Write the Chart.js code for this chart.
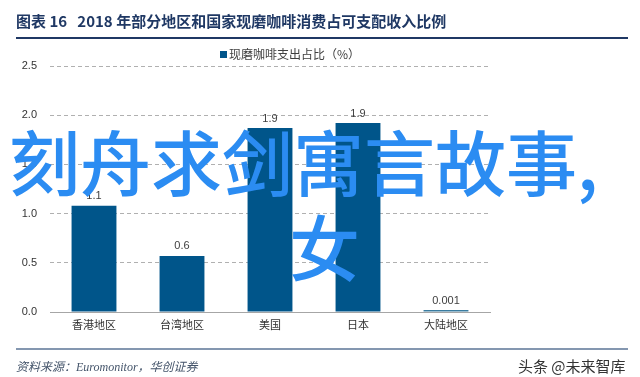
<!DOCTYPE html>
<html><head><meta charset="utf-8">
<script src="https://cdn.jsdelivr.net/npm/chart.js@4/dist/chart.umd.min.js"></script>
<style>
html,body{margin:0;padding:0;background:#fff;width:640px;height:377px;overflow:hidden;}
#wrap{position:relative;width:640px;height:377px;}
#c{position:absolute;left:0;top:0;}
.abs{position:absolute;white-space:nowrap;}
#title{left:16px;top:10px;font-family:"Noto Sans CJK SC",serif;font-weight:bold;font-size:15px;color:#1f3864;letter-spacing:0px;}
#tline{left:16px;top:37px;width:612px;height:2px;background:#1f3864;}
#fline{left:16px;top:348px;width:612px;height:2px;background:#8497b0;}
#src{left:16px;top:357px;font-family:"Liberation Serif","Noto Sans CJK SC",serif;font-style:italic;font-size:12px;color:#44546a;}
#wm{left:518px;top:355px;font-family:"Noto Sans CJK SC",sans-serif;font-size:15px;color:#333;}
#leg{left:220px;top:45px;font-family:"Noto Sans CJK SC",sans-serif;font-size:12px;color:#404040;}
#leg span.box{display:inline-block;width:7px;height:7px;background:#00558a;margin-right:2px;vertical-align:1px;}
#ov1{left:9px;top:114px;font-family:"Noto Sans CJK SC",sans-serif;font-weight:500;font-size:71px;line-height:90px;color:#2b8cf2;letter-spacing:0px;}
#ov2{left:289px;top:199px;font-family:"Noto Sans CJK SC",sans-serif;font-weight:500;font-size:71px;line-height:90px;color:#2b8cf2;}
</style></head>
<body><div id="wrap">
<canvas id="c" width="640" height="377"></canvas>
<div class="abs" id="title">图表 16&nbsp;&nbsp;&nbsp;2018 年部分地区和国家现磨咖啡消费占可支配收入比例</div>
<div class="abs" id="tline"></div>
<div class="abs" id="leg"><span class="box"></span>现磨咖啡支出占比（%）</div>
<div class="abs" id="fline"></div>
<div class="abs" id="src">资料来源：Euromonitor，华创证券</div>
<div class="abs" id="wm">头条 @未来智库</div>
<div class="abs" id="ov1">刻舟求剑寓言故事,</div>
<div class="abs" id="ov2">女</div>
</div>
<script>
const categories = ["香港地区","台湾地区","美国","日本","大陆地区"];
const seriesName = "现磨咖啡支出占比（%）";
const values = [1.08, 0.57, 1.87, 1.92, 0.001];
const yTicks = [0.0, 0.5, 1.0, 1.5, 2.0, 2.5];

const fmt = v => v < 0.01 ? v.toFixed(3) : v.toFixed(1);

const labelPlugin = {
  id: 'vlabels',
  afterDatasetsDraw(chart){
    const ctx = chart.ctx;
    const meta = chart.getDatasetMeta(0);
    ctx.save();
    ctx.font = '11px "Liberation Sans", Arial, sans-serif';
    ctx.fillStyle = '#404040';
    ctx.textAlign = 'center';
    ctx.textBaseline = 'bottom';
    meta.data.forEach((bar, i) => {
      ctx.fillText(fmt(values[i]), bar.x, bar.y - 4);
    });
    ctx.restore();
  }
};

new Chart(document.getElementById('c'), {
  type: 'bar',
  data: {
    labels: categories,
    datasets: [{
      label: seriesName,
      data: values,
      backgroundColor: values.map(v => v < 0.01 ? '#3a7ca0' : '#00558a'),
      barPercentage: 0.51,
      categoryPercentage: 1.0,
      minBarLength: 2
    }]
  },
  options: {
    responsive: false,
    animation: false,
    layout: { padding: { left: 0, right: 150, top: 66, bottom: 40 } },
    plugins: { legend: { display: false }, tooltip: { enabled: false } },
    scales: {
      x: {
        grid: { display: false, drawTicks: false },
        border: { display: true, color: '#a6a6a6', width: 1 },
        ticks: { color: '#333', font: { family: '"Noto Sans CJK SC", sans-serif', size: 11 }, padding: 6 },
        afterFit(s){ s.height = 25; }
      },
      y: {
        min: 0, max: 2.5,
        afterBuildTicks(s){ s.ticks = yTicks.map(v => ({ value: v })); },
        grid: {
          color: ctx => ctx.tick && ctx.tick.value === 0 ? 'rgba(0,0,0,0)' : '#b0b0b0',
          drawTicks: false, lineWidth: 1
        },
        border: { display: false, dash: [4, 3] },
        ticks: {
          color: '#333', font: { family: '"Liberation Sans", Arial, sans-serif', size: 11 },
          padding: 13, callback: v => Number(v).toFixed(1)
        },
        afterFit(s){ s.width = 50; }
      }
    }
  },
  plugins: [labelPlugin]
});
</script>
</body></html>
